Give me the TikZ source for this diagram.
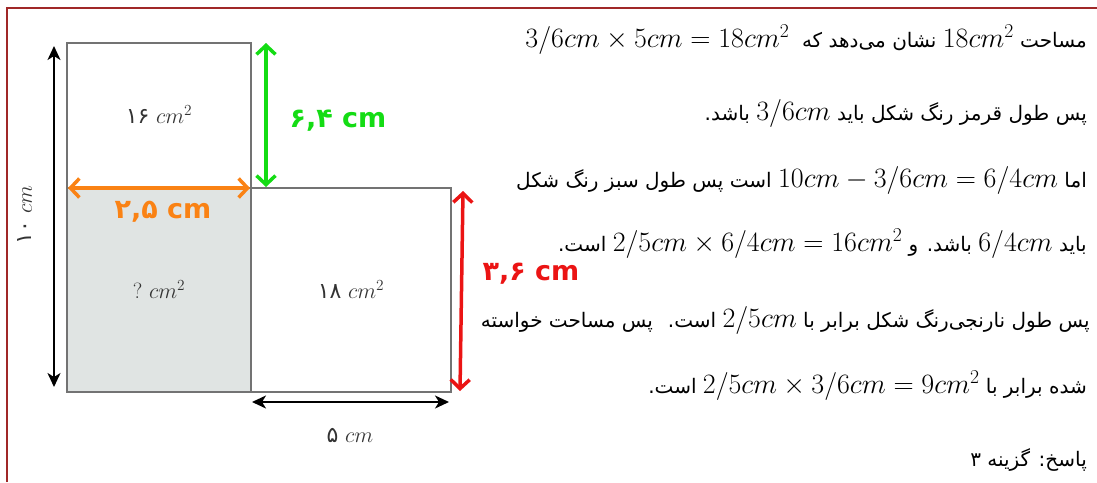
\RequirePackage{fix-cm}
\documentclass[tikz,border=0pt]{standalone}
\usepackage{amsmath}
\usepackage{fontspec}
\newfontfamily\farsi[Script=Arabic]{DejaVu Sans}
\TeXXeTstate=1
\usetikzlibrary{arrows.meta}

\definecolor{framered}{RGB}{160,40,40}
\definecolor{shadegray}{RGB}{224,228,227}
\definecolor{pengreen}{RGB}{20,220,20}
\definecolor{penorange}{RGB}{250,130,20}
\definecolor{penred}{RGB}{235,20,20}

\newcommand\fmath[1]{\beginL{\fontsize{28}{30}\selectfont$#1$}\endL}

\begin{document}
\begin{tikzpicture}[x=1pt, y=-1pt,
  box/.style={draw=black!55, line width=1.8pt},
  dimarrow/.style={line width=1.8pt, {Stealth[length=14pt,width=13pt,inset=4pt]}-{Stealth[length=14pt,width=13pt,inset=4pt]}},
  handarrow/.style={line width=3.5pt, line cap=round, line join=round, {Straight Barb[length=9pt,width=19pt]}-{Straight Barb[length=9pt,width=19pt]}},
  area/.style={text=black!80, font=\fontsize{22}{24}\selectfont},
  pen/.style={inner sep=1pt, font=\farsi\bfseries\fontsize{27}{29}\selectfont},
  txt/.style={anchor=east, inner sep=0pt, font=\farsi\fontsize{20}{24}\selectfont}]
  \useasboundingbox (0,0) rectangle (1097,482);

  % frame
  \coordinate (K1) at (7,482);
  \coordinate (K2) at (7,8);
  \coordinate (K3) at (1097,8);
  \draw[framered, line width=2pt] (K1) -- (K2) -- (K3);

  % rectangles
  \coordinate (A) at (67,43);
  \coordinate (B) at (251,43);
  \coordinate (C) at (251,188);
  \coordinate (D) at (67,188);
  \coordinate (E) at (67,392);
  \coordinate (F) at (251,392);
  \coordinate (G) at (451,188);
  \coordinate (H) at (451,392);

  \fill[shadegray] (D) rectangle (F);
  \draw[box] (A) rectangle (C);
  \draw[box] (D) rectangle (F);
  \draw[box] (C) rectangle (H);

  % black dimensions
  \coordinate (p1) at (54,46);
  \coordinate (p2) at (54,387);
  \draw[dimarrow] (p1) -- (p2);
  \coordinate (q1) at (252,402);
  \coordinate (q2) at (449,402);
  \draw[dimarrow] (q1) -- (q2);

  % pen marks
  \coordinate (g1) at (266,43);
  \coordinate (g2) at (266,187);
  \draw[handarrow, pengreen] (g1) -- (g2);
  \coordinate (o1) at (68,188);
  \coordinate (o2) at (250,188);
  \draw[handarrow, penorange] (o1) -- (o2);
  \coordinate (r1) at (463,191);
  \coordinate (r2) at (460,391);
  \draw[handarrow, penred] (r1) -- (r2);

  % labels
  \node[area] (a16) at (159,115) {{\farsi ۱۶} $cm^2$};
  \node[area] (aq) at (159,290) {$?\ cm^2$};
  \node[area] (a18) at (351,290) {{\farsi ۱۸} $cm^2$};
  \node[area, rotate=90] (l10) at (25,215) {{\farsi ۱۰} $cm$};
  \node[area] (l5) at (350,435) {{\farsi ۵} $cm$};
  \node[pen, pengreen] (lg) at (338,121) {۶,۴ cm};
  \node[pen, penorange] (lo) at (163,212) {۲,۵ cm};
  \node[pen, penred] (lr) at (531,274) {۳,۶ cm};

  % text
  \node[txt] (t1) at (1087,40) {\beginR مساحت \fmath{18cm^2} نشان می^^^^200cدهد که \ \fmath{3/6cm\times 5cm=18cm^2}\endR};
  \node[txt] (t2) at (1087,113) {\beginR پس طول قرمز رنگ شکل باید \fmath{3/6cm} باشد.\endR};
  \node[txt] (t3) at (1087,180) {\beginR اما \fmath{10cm-3/6cm=6/4cm} است پس طول سبز رنگ شکل\endR};
  \node[txt] (t4) at (1087,244) {\beginR باید \fmath{6/4cm} باشد. و \fmath{2/5cm\times 6/4cm=16cm^2} است.\endR};
  \node[txt] (t5) at (1090,320) {\beginR پس طول نارنجی^^^^200cرنگ شکل برابر با \fmath{2/5cm} است. \ پس مساحت خواسته\endR};
  \node[txt] (t6) at (1087,386) {\beginR شده برابر با \fmath{2/5cm\times 3/6cm=9cm^2} است.\endR};
  \node[txt] (t7) at (1087,460) {\beginR پاسخ: گزینه ۳\endR};
\end{tikzpicture}
\end{document}
